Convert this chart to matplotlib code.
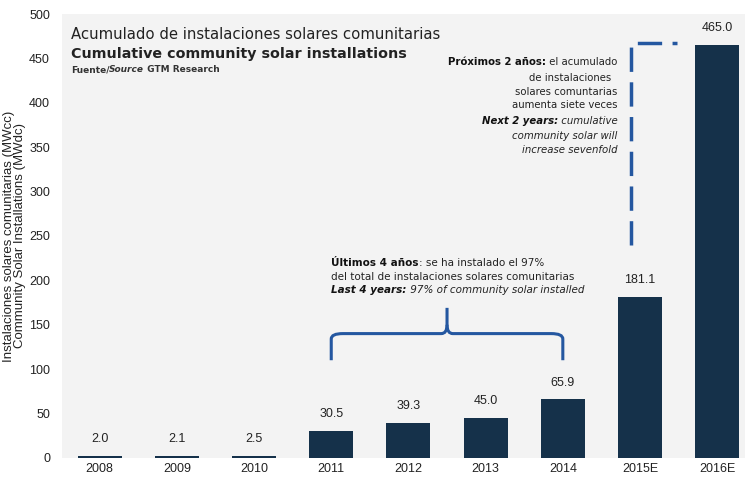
import numpy as np
import matplotlib.pyplot as plt
from matplotlib.path import Path
from matplotlib.patches import PathPatch
from matplotlib import font_manager

years = ['2008', '2009', '2010', '2011', '2012', '2013', '2014', '2015E', '2016E']
mwdc = [2.0, 2.1, 2.5, 30.5, 39.3, 45.0, 65.9, 181.1, 465.0]

bar_color = '#15314a'
blue = '#2457a0'

names = {f.name for f in font_manager.fontManager.ttflist}
narrow = 'Liberation Sans Narrow' if 'Liberation Sans Narrow' in names else 'Liberation Sans'

fig = plt.figure(figsize=(7.45, 4.83), dpi=100)
ax = fig.add_axes([0.083, 0.052, 0.917, 0.919])
ax.set_facecolor('#f3f3f3')

x = np.arange(len(years))
ax.bar(x, mwdc, width=0.57, color=bar_color, zorder=2)
for xi, v in zip(x, mwdc):
    ax.text(xi, v + 12, f'{v:.1f}', ha='center', va='bottom', fontsize=9,
            family=narrow, color='#222222')

ax.set_xlim(-0.49, 8.36)
ax.set_ylim(0, 500)
ax.set_yticks(np.arange(0, 501, 50))
ax.set_xticks(x)
ax.set_xticklabels(years)
ax.tick_params(length=0, labelsize=9, colors='#222222')
ax.tick_params(axis='y', pad=8.5)
for lab in ax.get_xticklabels() + ax.get_yticklabels():
    lab.set_family(narrow)
for s in ax.spines.values():
    s.set_visible(False)
ax.set_ylabel('Instalaciones solares comunitarias (MWcc)\nCommunity Solar Installations (MWdc)',
              fontsize=9.5, labelpad=2, color='#222222', family='Liberation Sans', linespacing=0.95)

# titles
ax.text(0.013, 0.953, 'Acumulado de instalaciones solares comunitarias', transform=ax.transAxes,
        fontsize=10.7, color='#222222', va='center')
ax.text(0.013, 0.910, 'Cumulative community solar installations', transform=ax.transAxes,
        fontsize=10.3, fontweight='bold', color='#222222', va='center')
t = ax.text(0.013, 0.874, 'Fuente/', transform=ax.transAxes, fontsize=6.5,
            fontweight='bold', color='#333333', va='center')
t = ax.annotate('Source', xy=(1, 0), xycoords=t, fontsize=6.5, fontweight='bold',
                style='italic', color='#333333', va='bottom')
ax.annotate(' GTM Research', xy=(1, 0), xycoords=t, fontsize=6.5, fontweight='bold',
            color='#333333', va='bottom')

# bracket over the last 4 years
x0, x1 = x[3], x[6]
xm = (x0 + x1) / 2
yb, yh, yp = 110, 140, 169
dx = 0.15
verts = [(x0, yb), (x0, yh - 6), (x0, yh), (x0 + dx, yh),
         (xm - dx / 2, yh), (xm, yh), (xm, yh + 10), (xm, yp)]
codes = [Path.MOVETO, Path.LINETO, Path.CURVE3, Path.CURVE3,
         Path.LINETO, Path.CURVE3, Path.CURVE3, Path.LINETO]
ax.add_patch(PathPatch(Path(verts, codes), fill=False, edgecolor=blue, lw=2.2, zorder=3))
verts = [(x1, yb), (x1, yh - 6), (x1, yh), (x1 - dx, yh),
         (xm + dx / 2, yh), (xm, yh), (xm, yh + 10)]
codes = [Path.MOVETO, Path.LINETO, Path.CURVE3, Path.CURVE3,
         Path.LINETO, Path.CURVE3, Path.CURVE3]
ax.add_patch(PathPatch(Path(verts, codes), fill=False, edgecolor=blue, lw=2.2, zorder=3))

fs = 7.5
tx = x0
t = ax.text(tx, 219, 'Últimos 4 años', fontsize=fs, fontweight='bold', va='center', color='#111111')
ax.annotate(': se ha instalado el 97%', xy=(1, 0.5), xycoords=t, fontsize=fs, va='center', color='#222222')
ax.text(tx, 204, 'del total de instalaciones solares comunitarias', fontsize=fs, va='center', color='#222222')
t = ax.text(tx, 189, 'Last 4 years:', fontsize=fs, fontweight='bold', style='italic', va='center', color='#111111')
ax.annotate(' 97% of community solar installed', xy=(1, 0.5), xycoords=t, fontsize=fs,
            style='italic', va='center', color='#222222')

# dashed connector to 2016E
xd = x[7] - 0.12
ax.plot([xd, xd, x[8] - 0.52], [240, 467, 467], color=blue, lw=2.5,
        linestyle=(0, (7, 3)), zorder=3)

rx = 6.71
fs2 = 7.3
lines_y = [446, 428, 412, 397, 380, 363, 347]
t = ax.text(rx, lines_y[0], ' el acumulado', fontsize=fs2, ha='right', va='center', color='#222222')
ax.annotate('Próximos 2 años:', xy=(0, 0.5), xycoords=t, fontsize=fs2, fontweight='bold',
            ha='right', va='center', color='#111111')
ax.text(rx, lines_y[1], 'de instalaciones  ', fontsize=fs2, ha='right', va='center', color='#222222')
ax.text(rx, lines_y[2], 'solares comuntarias', fontsize=fs2, ha='right', va='center', color='#222222')
ax.text(rx, lines_y[3], 'aumenta siete veces', fontsize=fs2, ha='right', va='center', color='#222222')
t = ax.text(rx, lines_y[4], ' cumulative', fontsize=fs2, style='italic', ha='right', va='center', color='#222222')
ax.annotate('Next 2 years:', xy=(0, 0.5), xycoords=t, fontsize=fs2, fontweight='bold', style='italic',
            ha='right', va='center', color='#111111')
ax.text(rx, lines_y[5], 'community solar will', fontsize=fs2, style='italic', ha='right', va='center', color='#222222')
ax.text(rx, lines_y[6], 'increase sevenfold', fontsize=fs2, style='italic', ha='right', va='center', color='#222222')

fig.savefig('out.png', dpi=100)
